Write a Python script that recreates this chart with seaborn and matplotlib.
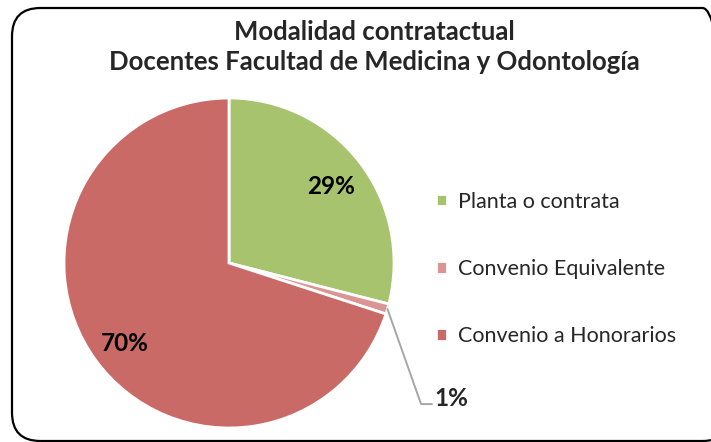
import matplotlib
matplotlib.use("Agg")
import matplotlib.pyplot as plt
import seaborn as sns
import numpy as np
from matplotlib.patches import FancyBboxPatch

categories = ["Planta o contrata", "Convenio Equivalente", "Convenio a Honorarios"]
values = [29, 1, 70]
colors = ["#A7C36D", "#DA9694", "#C96A67"]
title = "Modalidad contratactual\nDocentes Facultad de Medicina y Odontología"

sns.set_theme(style="white")
plt.rcParams['font.family'] = ['Lato', 'DejaVu Sans']

W, H = 711, 442
fig = plt.figure(figsize=(W/100, H/100), dpi=100)
fig.patch.set_facecolor("white")

# rounded frame
frame = FancyBboxPatch((12/W, 1/H), (W+20-12)/W, (434-1)/H,
                       boxstyle="round,pad=0,rounding_size=0.04",
                       transform=fig.transFigure, facecolor="none",
                       edgecolor="black", linewidth=1.6, mutation_aspect=W/H)
fig.patches.append(frame)

cx, cy, R = 229, 263, 165
ax = fig.add_axes([(cx-R)/W, (H-cy-R)/H, 2*R/W, 2*R/H])

pal = sns.color_palette(colors)
wedges, texts, autotexts = ax.pie(
    values, colors=pal, startangle=90, counterclock=False,
    autopct=lambda p: f"{p:.0f}%" if p > 5 else "", pctdistance=0.78,
    wedgeprops=dict(edgecolor="white", linewidth=2), radius=1)
ax.set_xlim(-1, 1); ax.set_ylim(-1, 1)
ax.set_aspect("equal")
ax.axis("off")
for t in autotexts:
    t.set_fontsize(17.5)
    t.set_fontweight("bold")
    t.set_color("black")
autotexts[0].set_y(autotexts[0].get_position()[1] - 0.015)
autotexts[2].set_y(autotexts[2].get_position()[1] - 0.03)

# leader for small slice
w = wedges[1]
ang = np.deg2rad((w.theta1 + w.theta2) / 2)
x0, y0 = np.cos(ang), np.sin(ang)
ax.plot([x0, 1.164, 1.23], [y0, -0.855, -0.855], color="#A6A6A6", lw=1.4,
        clip_on=False)
ax.text(1.245, -0.82, f"{values[1]}%", fontsize=17.5, fontweight="bold",
        ha="left", va="center", clip_on=False)

fig.text(374/W, 1 - 47/H, title, ha="center", va="center", fontsize=18.5,
         fontweight="bold", linespacing=1.3)

leg = fig.legend(wedges, categories, loc="upper left",
                 bbox_to_anchor=(427/W, 1 - 183/H), frameon=False,
                 fontsize=15.5, handlelength=0.55, handleheight=0.55,
                 handletextpad=0.5, labelspacing=2.2, borderaxespad=0)

fig.savefig("out.png", dpi=100, facecolor="white")
